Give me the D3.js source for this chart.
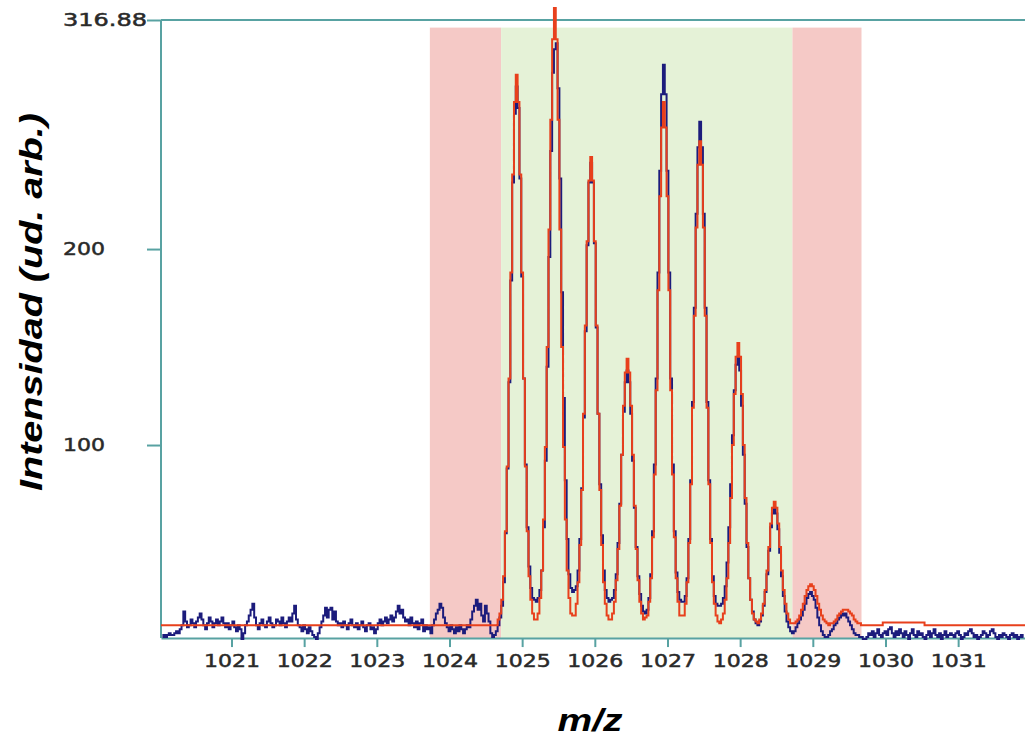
<!DOCTYPE html>
<html>
<head>
<meta charset="utf-8">
<script src="https://cdn.jsdelivr.net/npm/d3@7"></script>
<style>
  body { margin: 0; background: #fff; }
  svg { display: block; }
</style>
</head>
<body>
<script>
// m/z window and intensity ceiling shown on the chart
const xDomain = [1020.03, 1031.92];
const yMax = 316.88;
const axisFloor = 1.5;
const xTicks = [1021, 1022, 1023, 1024, 1025, 1026, 1027, 1028, 1029, 1030, 1031];
const yTicks = [100, 200, 316.88];

// shaded windows: outer (pink) | fitted (green) | outer (pink)
const regionBounds = [1023.73, 1024.71, 1028.72, 1029.67];
const regionKinds = ['out', 'in', 'out'];
const regionTop = 313;

const step = 0.025;

// measured spectrum, noise before the cluster (starts at 1020.05)
const measuredLowStart = 1020.05;
const measuredLow = [
  2, 3, 2, 3, 4, 3, 3, 4, 5, 4, 6, 8, 15, 10, 7,
  8, 11, 9, 7, 10, 12, 14, 11, 8, 6, 9, 12, 10, 7, 9, 11, 8, 10, 12, 9, 7,
  9, 6, 8, 10, 7, 5, 8, 6, 1, 4, 8, 10, 13, 16, 19, 12,
  8, 6, 9, 11, 8, 7, 10, 12, 9, 7, 8, 11, 10, 8, 12, 9, 7, 10, 12,
  10, 14, 18, 11, 8, 7, 5, 8, 6, 4, 7, 5, 3, 2, 1, 4, 7, 10, 13,
  17, 12, 16, 17, 11, 15, 10,
  8, 9, 7, 10, 8, 6, 9, 11, 8, 7, 9, 6, 8, 10, 7, 5, 8, 9, 6, 7, 4, 6, 9, 11, 8,
  10, 12, 9, 11, 13, 10, 12, 15, 18, 14, 16, 12, 10,
  11, 8, 12, 9, 7, 10, 6, 9, 11, 5, 8, 6, 7, 4, 8, 11, 14, 16, 19, 17, 12, 9, 7,
  5, 8, 6, 4, 7, 5, 8, 6, 4, 6, 8, 7, 11, 15, 18, 21, 16, 19, 13, 10
];

// measured spectrum from 1024.5 onward
const mainStart = 1024.5;
const measured = [
  18, 14, 10, 4, 2, 3, 5, 8, 12, 18,
  30, 55, 88, 132, 184, 234, 269, 283, 272, 236,
  186, 134, 90, 58, 38, 27, 22, 21, 20, 22,
  26, 36, 58, 92, 140, 196, 250, 290, 302, 305,
  282, 236, 178, 124, 82, 52, 34, 27, 25, 26,
  28, 36, 52, 78, 114, 158, 202, 234, 244, 234,
  203, 160, 116, 80, 54, 36, 26, 22, 20, 21,
  22, 26, 34, 50, 70, 95, 117, 132, 138, 132,
  116, 92, 68, 48, 33, 24, 18, 15, 14, 16,
  22, 34, 56, 90, 134, 188, 240, 279, 294, 279,
  240, 188, 134, 90, 56, 35, 25, 21, 20, 20,
  23, 32, 52, 82, 122, 170, 218, 252, 265, 252,
  218, 170, 122, 82, 52, 33, 23, 19, 18, 18,
  19, 22, 28, 40, 58, 80, 105, 128, 141, 145,
  138, 120, 95, 70, 48, 32, 21, 15, 11, 9,
  8, 10, 13, 18, 25, 34, 46, 58, 65, 68,
  65, 57, 45, 33, 23, 15, 10, 7, 5, 4,
  5, 7, 9, 11, 13, 16, 19, 22, 24, 25,
  23, 21, 17, 12, 8, 5, 3, 2, 2, 3,
  5, 6, 8, 9, 11, 12, 14, 13, 14, 12,
  10, 8, 6, 4, 3, 3, 2, 2, 1, 1,
  2, 4, 3, 5, 2, 4, 6, 3, 2, 4, 5, 3, 6, 7, 4, 2, 5, 3,
  6, 4, 2, 5, 3, 1, 4, 6, 3, 2, 5, 3, 4, 2, 1, 3, 5, 2, 4, 6,
  3, 2, 4, 1, 3, 5, 2, 3, 4,
  3, 2, 4, 5, 3, 1, 2, 4, 3, 5, 6, 4, 2, 3, 1, 2, 3, 5, 4, 2,
  3, 5, 6, 4, 2, 1, 3, 2, 4, 3, 2, 1, 3, 4, 2, 3, 1, 2, 3, 2
];

// fitted isotope envelope from 1024.5, flat baseline outside
const fitBaseline = 8;
const fit = [
  8, 8, 8, 8, 8, 8, 8, 11, 14, 21,
  33, 56, 89, 134, 188, 238, 275, 289, 275, 238,
  188, 134, 89, 56, 33, 21, 14, 11, 11, 14,
  22, 36, 62, 99, 150, 210, 266, 307, 323, 307,
  266, 210, 150, 99, 62, 36, 22, 14, 13, 13,
  19, 30, 49, 77, 116, 161, 204, 235, 247, 235,
  204, 161, 116, 77, 49, 30, 19, 13, 11, 11,
  14, 20, 31, 47, 69, 95, 120, 137, 144, 137,
  120, 95, 69, 47, 31, 20, 14, 11, 12, 13,
  20, 32, 53, 85, 128, 179, 227, 262, 275, 262,
  227, 179, 128, 85, 53, 32, 20, 13, 13, 13,
  19, 30, 50, 80, 119, 166, 211, 243, 255, 243,
  211, 166, 119, 80, 50, 30, 19, 13, 10, 9,
  11, 14, 21, 32, 50, 73, 100, 126, 145, 152,
  145, 126, 100, 73, 50, 32, 21, 14, 11, 10,
  9, 11, 14, 19, 26, 36, 48, 60, 68, 71,
  68, 60, 48, 36, 26, 19, 14, 11, 9, 9,
  9, 10, 11, 13, 16, 19, 23, 26, 28, 29,
  28, 26, 23, 19, 16, 13, 11, 10, 9, 8,
  9, 9, 10, 11, 13, 14, 15, 16, 16, 16,
  15, 14, 13, 11, 10, 9, 9, 8, 8, 8,
  8, 8, 8, 8, 8, 8, 8, 8, 8,
  9.5, 9.5, 9.5, 9.5, 9.5, 9.5, 9.5, 9.5, 9.5, 9.5, 9.5, 9.5,
  9.5, 9.5, 9.5, 9.5, 9.5, 9.5, 9.5, 9.5, 9.5, 9.5, 9.5,
  8, 8, 8, 8, 8, 8, 8, 8, 8, 8, 8, 8, 8, 8, 8
];

const width = 1025;
const height = 738;
const teal = '#58a2a2';

const svg = d3.select('body')
  .append('svg')
  .attr('width', width)
  .attr('height', height);

const x = d3.scaleLinear().domain(xDomain).range([161, 1025]);
const y = d3.scaleLinear().domain([0, yMax]).range([641, 20]);

// shaded windows
const regions = d3.pairs(regionBounds).map((p, i) => ({ x0: p[0], x1: p[1], kind: regionKinds[i] }));
svg.append('g')
  .selectAll('rect')
  .data(regions)
  .join('rect')
  .attr('x', d => x(d.x0))
  .attr('width', d => x(d.x1) - x(d.x0))
  .attr('y', y(regionTop))
  .attr('height', y(axisFloor) - y(regionTop))
  .attr('fill', d => d.kind === 'in' ? '#e5f2d7' : '#f5c9c6');

const labelStyle = sel => sel
  .attr('fill', '#2a2a2a')
  .attr('stroke', '#2a2a2a')
  .attr('stroke-width', 0.5)
  .style('font-family', '"DejaVu Sans", Verdana, sans-serif')
  .style('font-size', '18px')
  .attr('textLength', function () { return this.textContent.length * 14; })
  .attr('lengthAdjust', 'spacingAndGlyphs');

// x axis
const xAxis = svg.append('g')
  .attr('transform', `translate(0,${y(axisFloor)})`)
  .call(d3.axisBottom(x).tickValues(xTicks).tickSize(9).tickSizeOuter(0).tickFormat(d3.format('d')));
xAxis.select('.domain').attr('stroke', teal).attr('stroke-width', 2);
xAxis.selectAll('.tick line').attr('stroke', teal).attr('stroke-width', 2);
xAxis.selectAll('.tick text')
  .attr('y', 29)
  .attr('dy', null)
  .call(labelStyle);

// y axis
const yAxis = svg.append('g')
  .attr('transform', `translate(${x(xDomain[0])},0)`)
  .call(d3.axisLeft(y).tickValues(yTicks).tickSize(14).tickSizeOuter(0).tickFormat(d => d === yMax ? '316.88' : d3.format('d')(d)));
yAxis.select('.domain').remove();
yAxis.selectAll('.tick line').attr('stroke', teal).attr('stroke-width', 2);
yAxis.selectAll('.tick text')
  .attr('x', 63 - x(xDomain[0]))
  .attr('dy', 5)
  .attr('text-anchor', 'start')
  .call(labelStyle);

// left border and top (max) line
svg.append('line')
  .attr('x1', x(xDomain[0])).attr('x2', x(xDomain[0]))
  .attr('y1', y(axisFloor)).attr('y2', y(yMax))
  .attr('stroke', teal).attr('stroke-width', 2);
svg.append('line')
  .attr('x1', x(xDomain[0])).attr('x2', x(xDomain[1]))
  .attr('y1', y(yMax)).attr('y2', y(yMax))
  .attr('stroke', teal).attr('stroke-width', 2);

// series
const measuredPts = measuredLow.map((v, i) => [measuredLowStart + i * step, v])
  .concat(measured.map((v, i) => [mainStart + i * step, v]));
const fitPts = [[xDomain[0], fitBaseline]]
  .concat(fit.map((v, i) => [mainStart + i * step, v]))
  .concat([[xDomain[1], fitBaseline]]);

const line = d3.line()
  .x(d => x(d[0]))
  .y(d => y(d[1]))
  .curve(d3.curveStep);

svg.append('path')
  .datum(measuredPts)
  .attr('fill', 'none')
  .attr('stroke', '#1c1c7c')
  .attr('stroke-width', 2)
  .attr('d', line);

svg.append('path')
  .datum(fitPts)
  .attr('fill', 'none')
  .attr('stroke', '#e8401c')
  .attr('stroke-width', 2)
  .attr('d', line);

// axis titles
svg.append('text')
  .attr('x', 590)
  .attr('y', 731)
  .attr('text-anchor', 'middle')
  .style('font-family', '"Liberation Sans", Arial, sans-serif')
  .style('font-weight', 'bold')
  .style('font-style', 'italic')
  .style('font-size', '32px')
  .attr('textLength', 65)
  .attr('lengthAdjust', 'spacingAndGlyphs')
  .text('m/z');

svg.append('text')
  .attr('transform', 'translate(42,302) rotate(-90)')
  .attr('text-anchor', 'middle')
  .style('font-family', '"Liberation Sans", Arial, sans-serif')
  .style('font-weight', 'bold')
  .style('font-style', 'italic')
  .style('font-size', '32px')
  .attr('textLength', 378)
  .attr('lengthAdjust', 'spacingAndGlyphs')
  .text('Intensidad (ud. arb.)');
</script>
</body>
</html>
